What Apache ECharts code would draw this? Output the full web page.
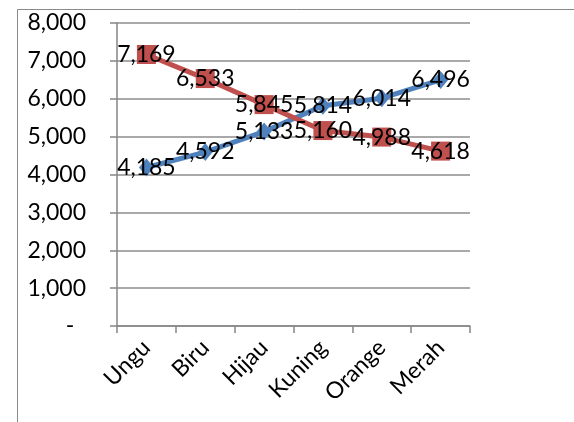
<!DOCTYPE html>
<html><head><meta charset="utf-8">
<style>html,body{margin:0;padding:0;background:#fff}#c{width:574px;height:422px}</style>
<script src="https://cdn.jsdelivr.net/npm/echarts@6/dist/echarts.min.js"></script>
</head><body><div id="c"></div>
<script>
const categories = ["Ungu", "Biru", "Hijau", "Kuning", "Orange", "Merah"];
const blueValues = [4185, 4592, 5133, 5814, 6014, 6496];
const redValues = [7169, 6533, 5845, 5160, 4988, 4618];
const yTicks = [0, 1000, 2000, 3000, 4000, 5000, 6000, 7000, 8000];

const fmt = v => v === 0 ? '-  ' : v.toLocaleString('en-US');
const FONT = 'Lato';
const FS = 23;
const chart = echarts.init(document.getElementById('c'));
chart.setOption({
  animation: false,
  backgroundColor: '#fff',
  graphic: [{
    type: 'rect', left: 15, top: 7, shape: {width: 700, height: 600},
    style: {fill: 'none', stroke: '#8a8a8a', lineWidth: 1}, silent: true, z: -1
  }],
  grid: {left: 117, right: 104, top: 23, bottom: 96},
  xAxis: {
    type: 'category', data: categories, boundaryGap: true,
    axisLine: {lineStyle: {color: '#868686', width: 1.5}},
    axisTick: {show: true, length: 7, alignWithLabel: false, lineStyle: {color: '#868686', width: 1.5}},
    axisLabel: {rotate: 45, color: '#000', fontFamily: FONT, fontSize: FS, margin: 18}
  },
  yAxis: {
    type: 'value', min: yTicks[0], max: yTicks[yTicks.length - 1], interval: 1000,
    axisLine: {show: true, lineStyle: {color: '#868686', width: 1.5}},
    axisTick: {show: true, length: 7, lineStyle: {color: '#868686', width: 1.5}},
    splitLine: {lineStyle: {color: '#8c8c8c', width: 1.5}},
    axisLabel: {color: '#000', fontFamily: FONT, fontSize: FS, margin: 31, formatter: fmt}
  },
  series: [
    {
      type: 'line', data: blueValues, symbol: 'diamond', symbolSize: [15, 18],
      lineStyle: {color: '#4F81BD', width: 5}, itemStyle: {color: '#4F81BD'},
      label: {show: true, position: 'inside', color: '#000', fontFamily: FONT, fontSize: FS,
        formatter: p => fmt(p.value)}
    },
    {
      type: 'line', data: redValues, symbol: 'rect', symbolSize: 19,
      lineStyle: {color: '#C0504D', width: 5}, itemStyle: {color: '#C0504D'},
      label: {show: true, position: 'inside', color: '#000', fontFamily: FONT, fontSize: FS,
        formatter: p => fmt(p.value)}
    }
  ]
});
</script></body></html>
